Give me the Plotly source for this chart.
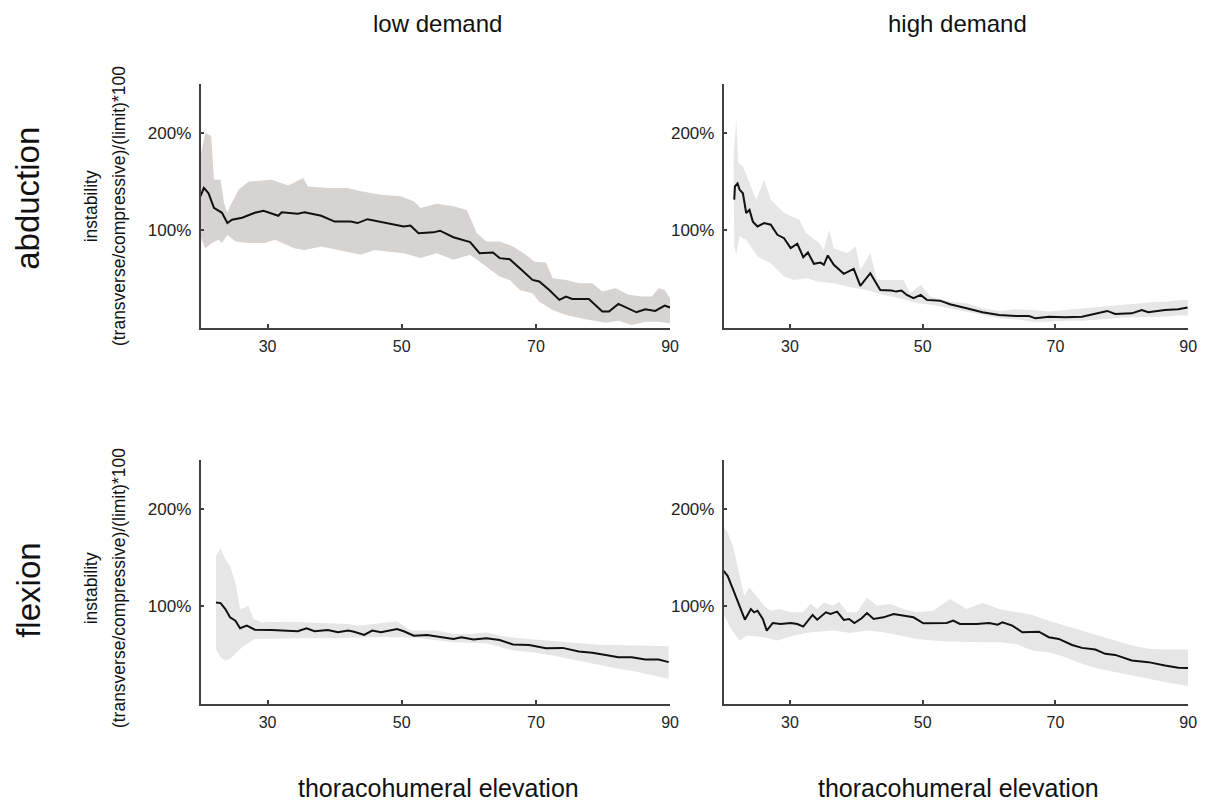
import plotly.graph_objects as go

# ---------------- data ----------------
# abduction, low demand
abl_x = [20, 20.5, 21.2, 22, 23.2, 24, 24.7, 26.2, 28.1, 29.4, 31.6, 32.1, 34.5, 35.5, 38, 40, 42.4, 43.4, 44.9,
         47.8, 50.3, 51.3, 52.5, 54.7, 55.7, 57.7, 59.2, 60.2, 61.6, 63.6, 64.6, 66.1, 67.6, 69.5, 70.5, 72, 73.5,
         74.5, 75.4, 77.9, 79.9, 80.9, 82.3, 83.8, 85, 86.3, 87.8, 89.2, 90]
abl_m = [135, 143.5, 138, 123, 118, 107.5, 111, 113, 118, 120, 115, 118.5, 117, 118.5, 115, 109, 109, 107.5, 111.5,
         107.5, 104, 105, 97, 98, 99.7, 93, 90.4, 88, 76.7, 77.4, 71.6, 70.5, 61.3, 49.3, 47.6, 39, 28.8,
         32.2, 29.8, 29.8, 16.8, 16.8, 24.7, 20.2, 16.1, 19.2, 17.5, 23, 21]
abl_ux = [20, 20.7, 21.6, 22, 23, 23.5, 24, 24.4, 25.7, 27.2, 30.6, 33.1, 35.3, 36, 39, 41.9, 43.9, 46.9, 49.8, 51.8,
          52.8, 55.2, 57.7, 59.7, 61.2, 62.6, 64.6, 66.6, 68.5, 69.8, 71.5, 72.5, 74.5, 76.4, 78.4, 79.9, 81.9,
          83.8, 85.8, 87.3, 88.3, 89.2, 90]
abl_u = [176, 200, 196.6, 152, 152, 128, 118, 124.7, 141.8, 150, 152, 146, 153.8, 145, 143.5, 143.5, 140, 136.6,
         135, 129.8, 123, 127.4, 124.7, 121, 97.3, 88.7, 88.7, 83.6, 75, 68, 67, 51, 49.3, 45.9, 45.9, 37.3,
         40.8, 34, 32.2, 32.2, 40.8, 39, 30.5]
abl_lx = [20, 20.7, 21.7, 22.7, 23.2, 24, 25.2, 27.2, 29.6, 31.1, 34, 35.5, 38, 40.5, 43.9, 45.9, 47.8, 50.3, 52.8,
          55.2, 57.7, 60.2, 62.6, 64.6, 66.1, 67.6, 69.5, 70.5, 72.5, 74.5, 77.4, 80.4, 82.3, 84.3, 86.3, 88.3, 90]
abl_l = [93.8, 81.8, 87, 90.4, 87, 95.5, 88.7, 87, 87, 90.4, 81.8, 80, 83.6, 80, 75, 80, 78.4, 76.7, 71.6,
         76.7, 69.9, 75, 63, 52.7, 49.3, 39, 35.6, 27, 18.5, 13.4, 8.9, 5.5, 7.5, 3.1, 6.5, 6.5, 4.8]

# abduction, high demand
abh_x = [21.6, 21.7, 22.1, 22.4, 22.9, 23.4, 23.9, 24.4, 25.1, 26.1, 27.1, 28.1, 29.1, 30.1, 31.1, 32, 32.7, 33.6,
         34.6, 35.1, 35.7, 36.6, 38.1, 39.6, 40.6, 42.1, 43.6, 45.3, 46, 46.8, 47.6, 48.6, 49.7, 50.6, 52.6, 54.1,
         56.6, 59, 61.5, 64, 66, 67, 69, 71.5, 74, 76, 77.8, 79, 81.5, 83, 84, 86.5, 88.5, 89.9]
abh_m = [131.5, 145, 148, 141.8, 138, 117.8, 121, 109, 104, 107.5, 105.8, 95.5, 92, 81.8, 86.3, 72.6, 77.4, 65.8,
         67, 64.7, 74.3, 64.7, 55.5, 60.6, 43.2, 56.2, 39, 38.4, 37.3, 38.4, 33.9, 30.5, 33.9, 28.8, 28, 24.3,
         20.2, 16.1, 13.4, 12.3, 12.3, 9.9, 11.6, 11, 11.6, 14.4, 17.5, 14.4, 15, 18.5, 16.1, 18.5, 19.2, 21]
abh_ux = [21.5, 21.9, 22.2, 22.9, 24.1, 24.9, 26.1, 27.1, 29.1, 31.4, 32.4, 34.4, 35.1, 35.9, 36.6, 38.6, 39.9, 40.6,
          42.1, 43.1, 45.1, 47.1, 48.1, 49.7, 51.1, 54.1, 56.6, 59, 61.5, 64, 66.5, 69, 71.5, 74, 76.5, 79, 81.5,
          84, 86.5, 89, 90]
abh_u = [172.6, 215.4, 169, 165.8, 145.2, 131.5, 152, 131.5, 117.8, 111, 97.3, 87, 80, 100.7, 81.8, 76.7, 83.6, 59.6,
         76.7, 49.3, 49.3, 49.3, 35.6, 44.2, 32.2, 27.1, 25.3, 20.2, 17.5, 19.2, 18.5, 16.8, 18.5, 20.2, 21.9, 23.6,
         24.7, 26, 27, 28.8, 28.8]
abh_lx = [21.6, 21.9, 22.4, 23.4, 25.1, 27.1, 29.1, 30.6, 32.6, 34.1, 36.6, 39.1, 41.6, 44.1, 46.6, 49.1, 51.6,
          54.1, 56.6, 59, 61.5, 64, 66.5, 69, 71.5, 74, 76.5, 79, 81.5, 84, 86.5, 89, 90]
abh_l = [83.6, 75, 93.8, 90.4, 73.3, 66.4, 52.7, 49.3, 51, 47.6, 45.9, 41.8, 39, 33.9, 30.5, 25.3, 23.6,
         20.2, 16.8, 13.4, 9.9, 8.9, 6.5, 6.5, 7.5, 7.5, 8.9, 9.9, 11, 11.6, 11.6, 13.4, 12.3]

# flexion, low demand
fll_x = [22.3, 23, 23.7, 24.4, 25.2, 25.9, 26.9, 28.1, 30.6, 33.1, 34.5, 35.8, 37, 39, 40.5, 42, 42.9, 44.4, 45.6,
         46.9, 49.3, 50.3, 51.8, 53.8, 55.7, 57.7, 58.9, 60.7, 62.6, 64.6, 66.6, 69, 71.5, 74, 76.4, 78.4, 80.4,
         82.3, 84.3, 86.3, 88.3, 89.8]
fll_m = [104, 103.4, 97.3, 88.8, 85.4, 77.6, 80.3, 76.2, 75.9, 75.2, 74.5, 77.6, 74.5, 75.9, 73.5, 75.2, 74.1, 70.7,
         75.2, 73.5, 76.9, 74.5, 70, 70.7, 69, 66.7, 68.3, 66, 67.3, 65.6, 60.9, 60.5, 57.1, 57.5, 53.7, 52.4, 50.3,
         48, 48, 45.6, 45.6, 42.9]
fll_ux = [22.3, 23, 23.7, 24.4, 25.2, 25.9, 26.7, 27.1, 27.9, 29.1, 33.1, 38, 42, 43.4, 45.9, 47.8, 49.3, 51.3, 55.2,
          57.7, 60.2, 62.6, 65.1, 67.6, 70, 72.5, 74.9, 77.4, 79.9, 82.3, 84.8, 87.3, 89.8]
fll_u = [151.7, 159.2, 148.3, 141.5, 124.5, 97.3, 99, 101.4, 87, 83.7, 84.4, 83, 82, 80.3, 82, 83.7, 84.7, 75.2, 75.2,
         71.8, 71.8, 73.5, 69.4, 67.3, 66, 65, 63.3, 61.6, 60.5, 60.5, 59.9, 59.9, 59.2]
fll_lx = [22.3, 23, 23.7, 24.4, 25.4, 26.2, 27.1, 28.1, 30.6, 35.5, 40.5, 45.4, 50.3, 52.8, 57.7, 62.6, 66.6, 69.5,
          72.5, 74.9, 77.4, 79.9, 82.3, 84.8, 87.3, 89.8]
fll_l = [56.5, 48, 44.6, 46.3, 53, 58.2, 62.6, 66.7, 67.3, 67.3, 67.3, 68.4, 68.4, 67.3, 63.3, 62.2, 54.8, 53,
         49.7, 46.3, 42.9, 39.5, 36, 33.3, 29.9, 25.9]

# flexion, high demand
flh_x = [20, 20.6, 21.4, 22.4, 23.2, 24.1, 24.6, 25.1, 25.9, 26.5, 27.4, 28.6, 30.1, 31.1, 32, 33.4, 34.1, 35.4,
         36.1, 37.1, 38.1, 38.9, 39.7, 40.8, 41.6, 42.6, 44.1, 45.6, 47.6, 48.6, 50.1, 52.1, 53.6, 54.6, 55.6,
         58.1, 60, 61.3, 62, 63.5, 65, 67.5, 69, 70.5, 72.5, 74, 76, 77.5, 79, 81.5, 84, 86.5, 88.5, 90]
flh_m = [136.4, 131.3, 117.7, 100.7, 86.4, 97.3, 93.9, 95.6, 87.1, 75.2, 83, 82, 83, 82, 79.3, 91.2, 86.4, 93.9,
         92.2, 94.6, 86.1, 87.1, 83, 87.8, 93.2, 87.1, 88.8, 92.2, 89.5, 88.8, 82.7, 82.7, 83, 85.4, 82,
         82, 83, 81.3, 83.7, 80.3, 73.5, 74.1, 68.4, 66.7, 60.5, 57.5, 55.8, 51.4, 50.3, 44.6, 42.9, 39.5, 37.1, 36.8]
flh_ux = [20, 20.6, 21.4, 22.4, 23.1, 23.9, 24.9, 26.1, 27.1, 28.4, 30.1, 31.9, 33.1, 34.1, 35.1, 36.4, 37.4, 38.6,
          40.1, 41.6, 43.1, 45.1, 47.1, 49.1, 51.6, 54.1, 56.6, 59, 61.5, 64, 66.5, 69, 71.5, 74, 76.5, 79, 81.5,
          84, 86.5, 90]
flh_u = [182.3, 175.5, 161.9, 131.3, 110.9, 119.4, 110.9, 100.7, 95.6, 97.3, 93.9, 93.9, 102.4, 97.3, 104, 100.7,
         104.8, 93.9, 93.9, 109.2, 100.7, 102.4, 97.3, 93.9, 95.6, 107.5, 97.3, 103.4, 97.3, 93.9, 91.2, 85.4,
         80.3, 75.2, 70.1, 65, 59.9, 56.5, 55.8, 55.8]
flh_lx = [20, 21.1, 22.4, 23.6, 26.1, 28.1, 30.6, 33.1, 36.6, 39.1, 41.6, 44.1, 46.6, 49.1, 51.6, 54.1, 56.6, 59,
          61.5, 64, 66.5, 69, 71.5, 74, 76.5, 79, 81.5, 84, 86.5, 90]
flh_l = [92.2, 76.9, 65, 70.1, 68.4, 65, 70.1, 73.5, 75.2, 72.8, 75.2, 73.5, 70.1, 66.7, 65, 64, 63.3, 63.3,
         63.3, 61.6, 54.8, 53, 48, 41.2, 36.1, 32.7, 29.3, 25.9, 22.5, 18.4]

column_titles = ["low demand", "high demand"]
row_titles = ["abduction", "flexion"]
x_title = "thoracohumeral elevation"
y_title_lines = ["instability", "(transverse/compressive)/(limit)*100"]
x_ticks = [30, 50, 70, 90]
y_ticks = [100, 200]
y_tick_text = ["100%", "200%"]

# ---------------- figure ----------------
W, H = 1224, 805
FONT = "Arial, Liberation Sans, sans-serif"
AXC = "#404040"
TXT = "#111111"

panels = [
    # (mean x, mean y, upper x, upper y, lower x, lower y, fill colour, axis index, row, col)
    (abl_x, abl_m, abl_ux, abl_u, abl_lx, abl_l, "#d6d3d1", 1, 0, 0),
    (abh_x, abh_m, abh_ux, abh_u, abh_lx, abh_l, "#e6e6e6", 2, 0, 1),
    (fll_x, fll_m, fll_ux, fll_u, fll_lx, fll_l, "#e6e6e6", 3, 1, 0),
    (flh_x, flh_m, flh_ux, flh_u, flh_lx, flh_l, "#e6e6e6", 4, 1, 1),
]

x_dom_px = [(202, 675), (729, 1197)]
y_dom_px = [(84, 328), (460, 704)]

fig = go.Figure()
layout = {}
for mx, my, ux, uy, lx, ly, fc, ai, r, c in panels:
    xa = "x" if ai == 1 else f"x{ai}"
    ya = "y" if ai == 1 else f"y{ai}"
    fig.add_trace(go.Scatter(
        x=list(ux) + list(lx)[::-1], y=list(uy) + list(ly)[::-1],
        fill="toself", fillcolor=fc, line=dict(width=0), mode="lines",
        hoverinfo="skip", showlegend=False, xaxis=xa, yaxis=ya))
    fig.add_trace(go.Scatter(
        x=mx, y=my, mode="lines", line=dict(color="#111111", width=2),
        showlegend=False, xaxis=xa, yaxis=ya))
    x0, x1 = x_dom_px[c]
    y0, y1 = y_dom_px[r]
    kx = "xaxis" if ai == 1 else f"xaxis{ai}"
    ky = "yaxis" if ai == 1 else f"yaxis{ai}"
    layout[kx] = dict(
        domain=[x0 / W, x1 / W], anchor=ya, range=[20, 90],
        tickvals=x_ticks, ticks="inside", ticklen=4, tickwidth=1.5, tickcolor=AXC,
        showline=True, linecolor=AXC, linewidth=1.6, showgrid=False, zeroline=False,
        ticklabelstandoff=3,
        tickfont=dict(family=FONT, size=16, color="#222222"))
    layout[ky] = dict(
        domain=[1 - y1 / H, 1 - y0 / H], anchor=xa, range=[0, 250],
        tickvals=y_ticks, ticktext=y_tick_text, ticks="inside", ticklen=4, tickwidth=1.5,
        tickcolor=AXC, showline=True, linecolor=AXC, linewidth=1.6, showgrid=False,
        zeroline=False, ticklabelstandoff=4,
        tickfont=dict(family=FONT, size=17, color="#222222"))

annotations = []
# column titles and x-axis titles
for c, t in enumerate(column_titles):
    cx = (x_dom_px[c][0] + x_dom_px[c][1]) / 2
    annotations.append(dict(text=t, x=(cx + 2) / W, y=1 - 23 / H, xref="paper", yref="paper",
                            showarrow=False, font=dict(family=FONT, size=24, color=TXT),
                            xanchor="center", yanchor="middle"))
    annotations.append(dict(text=x_title, x=(cx + 3) / W, y=1 - 788 / H,
                            xref="paper", yref="paper", showarrow=False,
                            font=dict(family=FONT, size=25, color=TXT),
                            xanchor="center", yanchor="middle"))
# row titles and y-axis titles
row_centers = [198, 590]
ylabel_centers = [206, 588]
for r, t in enumerate(row_titles):
    annotations.append(dict(text=t, x=28 / W, y=1 - row_centers[r] / H, xref="paper", yref="paper",
                            showarrow=False, textangle=-90,
                            font=dict(family=FONT, size=33, color=TXT),
                            xanchor="center", yanchor="middle"))
    for xi, line in zip([92, 120], y_title_lines):
        annotations.append(dict(text=line, x=xi / W, y=1 - ylabel_centers[r] / H,
                                xref="paper", yref="paper",
                                showarrow=False, textangle=-90,
                                font=dict(family=FONT, size=17.5, color=TXT),
                                xanchor="center", yanchor="middle"))

fig.update_layout(
    width=W, height=H, margin=dict(l=0, r=0, t=0, b=0),
    paper_bgcolor="white", plot_bgcolor="white",
    annotations=annotations, showlegend=False, **layout)

fig.write_html("out.html")
